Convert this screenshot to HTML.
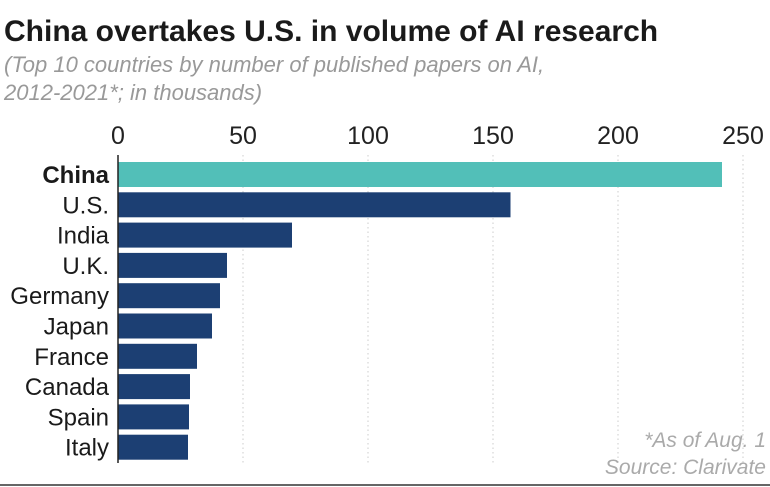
<!DOCTYPE html>
<html><head><meta charset="utf-8"><style>
body{margin:0;background:#fff;width:770px;height:487px;overflow:hidden;font-family:"Liberation Sans",sans-serif;}
svg{display:block}
</style></head><body>
<svg width="770" height="487">
<text x="4" y="41" font-size="30" font-weight="bold" fill="#1a1a1a">China overtakes U.S. in volume of AI research</text>
<text x="4" y="72" font-size="22" font-style="italic" fill="#999">(Top 10 countries by number of published papers on AI,</text>
<text x="4" y="100" font-size="22" font-style="italic" fill="#999">2012-2021*; in thousands)</text>
<g id="grid"></g><g id="bars"></g><g id="labels"></g><g id="ticks"></g>
<line x1="118" y1="155" x2="118" y2="463" stroke="#222" stroke-width="1.5"/>
<text x="766" y="447" font-size="21" font-style="italic" fill="#aaa" text-anchor="end">*As of Aug. 1</text>
<text x="766" y="474" font-size="21" font-style="italic" fill="#aaa" text-anchor="end">Source: Clarivate</text>
<line x1="0" y1="485" x2="770" y2="485" stroke="#666" stroke-width="2"/>
</svg>
<script>
const countries=["China","U.S.","India","U.K.","Germany","Japan","France","Canada","Spain","Italy"];
const papers=[241.6,157,69.6,43.6,40.8,37.6,31.6,28.8,28.4,28];
const tickValues=[0,50,100,150,200,250];
const NS="http://www.w3.org/2000/svg";
const x=v=>118+v*2.5;
const y=i=>162+i*30.3;
function mk(t,a,p){const e=document.createElementNS(NS,t);for(const k in a)e.setAttribute(k,a[k]);p.appendChild(e);return e;}
const g=document.getElementById('grid'),b=document.getElementById('bars'),l=document.getElementById('labels'),tk=document.getElementById('ticks');
tickValues.forEach(v=>{
 if(v>0){const ln=mk('line',{x1:x(v),x2:x(v),y1:155,y2:463,stroke:'#ccc','stroke-dasharray':'1.5,3'},g);
 
 }
 const t=mk('text',{x:x(v),y:144,'font-size':25,'text-anchor':'middle',fill:'#222'},tk);t.textContent=v;
 
 
});
countries.forEach((c,i)=>{
 const r=mk('rect',{x:x(0),y:y(i),width:x(papers[i])-x(0),height:25,fill:i==0?'#52bfb8':'#1c3f73'},b);
 
 
 const t=mk('text',{x:109,y:y(i)+21,'font-size':24,'text-anchor':'end',fill:'#1a1a1a','font-weight':i==0?'bold':'normal'},l);t.textContent=c;
 
 
});
</script>
</body></html>
